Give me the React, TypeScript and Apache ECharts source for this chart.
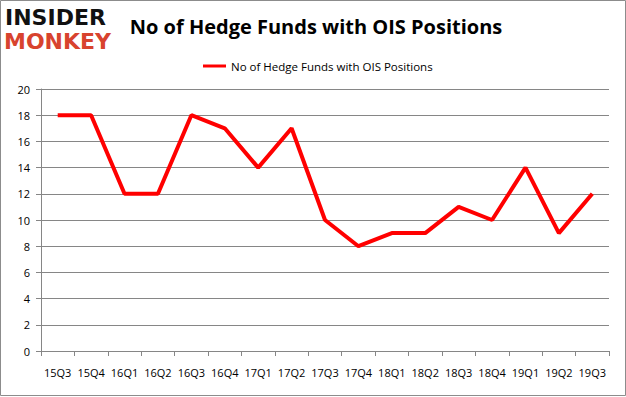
import React, { useEffect, useRef } from "react";
import * as echarts from "echarts";

const categories = ["15Q3","15Q4","16Q1","16Q2","16Q3","16Q4","17Q1","17Q2","17Q3","17Q4","18Q1","18Q2","18Q3","18Q4","19Q1","19Q2","19Q3"];
const values = [18,18,12,12,18,17,14,17,10,8,9,9,11,10,14,9,12];
const seriesName = "No of Hedge Funds with OIS Positions";
const titleText = "No of Hedge Funds with OIS Positions";

export default function App() {
  const ref = useRef<HTMLDivElement>(null);
  useEffect(() => {
    document.body.style.margin = "0";
    const chart = echarts.init(ref.current!, null, { renderer: "svg" });
    const font = "'Open Sans', 'Liberation Sans', sans-serif";
    chart.setOption({
      animation: false,
      backgroundColor: "#ffffff",
      title: {
        text: titleText,
        left: 311,
        textAlign: "center",
        top: 11,
        textStyle: { fontFamily: font, fontSize: 20, fontWeight: "bold", color: "#000" },
      },
      legend: {
        data: [seriesName],
        top: 55,
        left: 198,
        itemWidth: 23,
        itemHeight: 3,
        itemGap: 4,
        icon: "rect",
        textStyle: { fontFamily: font, fontSize: 11.5, color: "#000" },
      },
      grid: { left: 41, right: 17, top: 89, bottom: 46 },
      xAxis: {
        type: "category",
        data: categories,
        boundaryGap: true,
        axisLine: { lineStyle: { color: "#868686" } },
        axisTick: { show: true, alignWithLabel: false, length: 5, lineStyle: { color: "#868686" } },
        axisLabel: { fontFamily: font, fontSize: 11, color: "#000", margin: 16, interval: 0 },
      },
      yAxis: {
        type: "value",
        min: 0,
        max: 20,
        interval: 2,
        axisLine: { show: true, lineStyle: { color: "#868686" } },
        axisTick: { show: true, length: 5, lineStyle: { color: "#868686" } },
        splitLine: { lineStyle: { color: "#868686" } },
        axisLabel: { fontFamily: font, fontSize: 11, color: "#000", margin: 11 },
      },
      series: [
        {
          name: seriesName,
          type: "line",
          data: values,
          showSymbol: false,
          symbol: "none",
          lineStyle: { color: "#ff0000", width: 4 },
          itemStyle: { color: "#ff0000" },
        },
      ],
      graphic: [
        {
          type: "rect",
          shape: { x: 0.5, y: 0.5, width: 625, height: 395 },
          style: { fill: "none", stroke: "#8c8c8c", lineWidth: 1 },
        },
        {
          type: "text",
          x: 5,
          y: 7,
          style: { text: "INSIDER", fontFamily: "'DejaVu Sans', sans-serif", fontWeight: 900, fontSize: 22, lineHeight: 20, fill: "#111", letterSpacing: 0 },
        },
        {
          type: "text",
          x: 4,
          y: 31,
          style: { text: "MONKEY", fontFamily: "'DejaVu Sans', sans-serif", fontWeight: 900, fontSize: 22, lineHeight: 20, fill: "#d8432e", letterSpacing: 0 },
        },
      ],
    });
    return () => chart.dispose();
  }, []);
  return <div ref={ref} style={{ width: 626, height: 397 }} />;
}
